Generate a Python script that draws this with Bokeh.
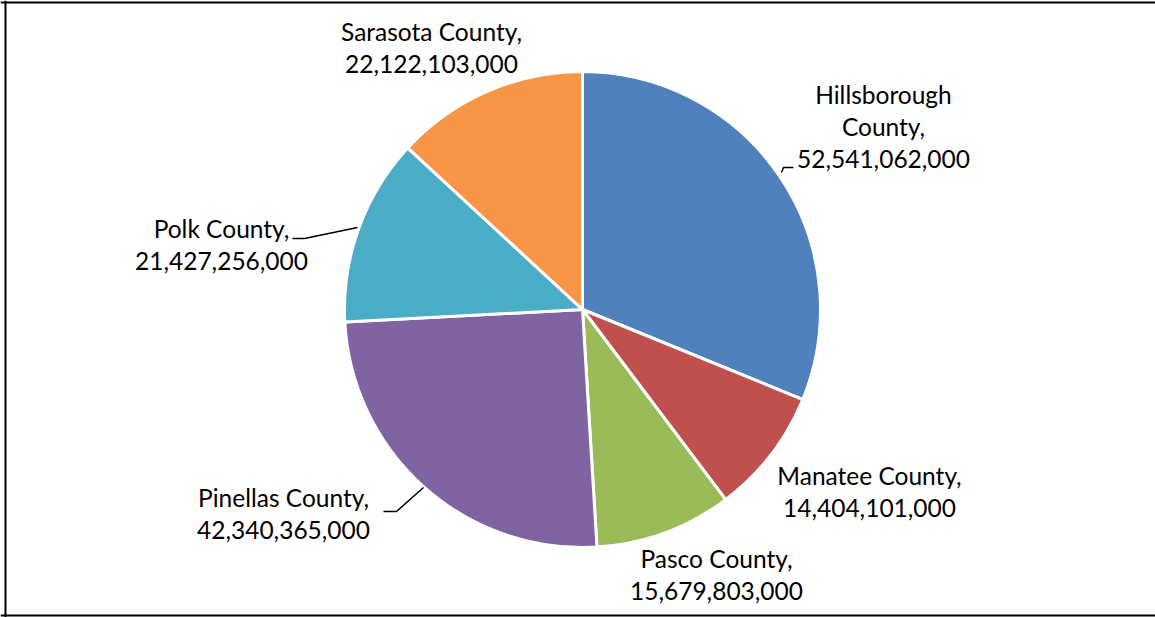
import numpy as np
from bokeh.plotting import figure
from bokeh.models import Range1d, Span, ColumnDataSource
from bokeh.core.properties import value
from bokeh.embed import file_html
from bokeh.resources import INLINE

# ---- data ----
counties = ["Hillsborough County", "Manatee County", "Pasco County",
            "Pinellas County", "Polk County", "Sarasota County"]
values = [52541062000, 14404101000, 15679803000,
          42340365000, 21427256000, 22122103000]
colors = ["#4F81BD", "#C0504D", "#9BBB59", "#8064A2", "#4BACC6", "#F79646"]

# ---- layout (screen pixel coordinates in the window) ----
W, H = 1155, 617
OFF = 0
CX, CY, R = 582, 309, 238
FONT = "Lato"
FS = 24.5
LINE_GAP = 32
TEXT_DY = -2
# label block centre (x, y of first line) per county
label_pos = [(883, 96), (869, 477), (716, 560), (283, 499), (221, 230), (431, 33)]
# label line splits per county
label_lines = []
for name, v in zip(counties, values):
    if name.startswith("Hillsborough"):
        label_lines.append(["Hillsborough", "County,", f"{v:,}"])
    else:
        label_lines.append([name + ",", f"{v:,}"])
# leader lines (screen coords)
leaders = [
    [(793, 167), (783, 167), (781, 172)],
    [(292, 238), (304, 238), (357, 227)],
    [(383, 511), (396, 511), (423, 487)],
]


def sy(y):
    return 617 - y


p = figure(width=W, height=H, output_backend="svg", toolbar_location=None,
           x_range=Range1d(OFF, OFF + W), y_range=Range1d(617 - OFF - H, 617 - OFF),
           min_border=0, outline_line_color=None, background_fill_color="white",
           border_fill_color="white")
p.axis.visible = False
p.grid.visible = False

vals = np.array(values, dtype=float)
frac = vals / vals.sum()
cum = np.concatenate([[0], np.cumsum(frac)])
start = np.pi / 2 - 2 * np.pi * cum[:-1]
end = np.pi / 2 - 2 * np.pi * cum[1:]

src = ColumnDataSource(dict(start=start, end=end, color=colors, name=counties))
p.wedge(x=CX, y=sy(CY), radius=R, radius_units="screen",
        start_angle="start", end_angle="end", direction="clock",
        fill_color="color", line_color="white", line_width=3, source=src)

# labels
tx, ty, tt = [], [], []
for (lx, ly), lines in zip(label_pos, label_lines):
    for i, t in enumerate(lines):
        tx.append(lx)
        ty.append(sy(ly + i * LINE_GAP + TEXT_DY))
        tt.append(t)
p.text(x=tx, y=ty, text=tt, text_align="center", text_baseline="middle",
       text_font=value(FONT), text_font_size=f"{FS}px", text_color="black")

p.multi_line(xs=[[pt[0] for pt in l] for l in leaders],
             ys=[[sy(pt[1]) for pt in l] for l in leaders],
             line_color="black", line_width=1.5)

# frame
p.add_layout(Span(location=5, dimension="height", line_color="black", line_width=2))
p.add_layout(Span(location=sy(2), dimension="width", line_color="black", line_width=2))
p.add_layout(Span(location=sy(615), dimension="width", line_color="black", line_width=2))

open("out.html", "w").write(file_html(p, INLINE))
